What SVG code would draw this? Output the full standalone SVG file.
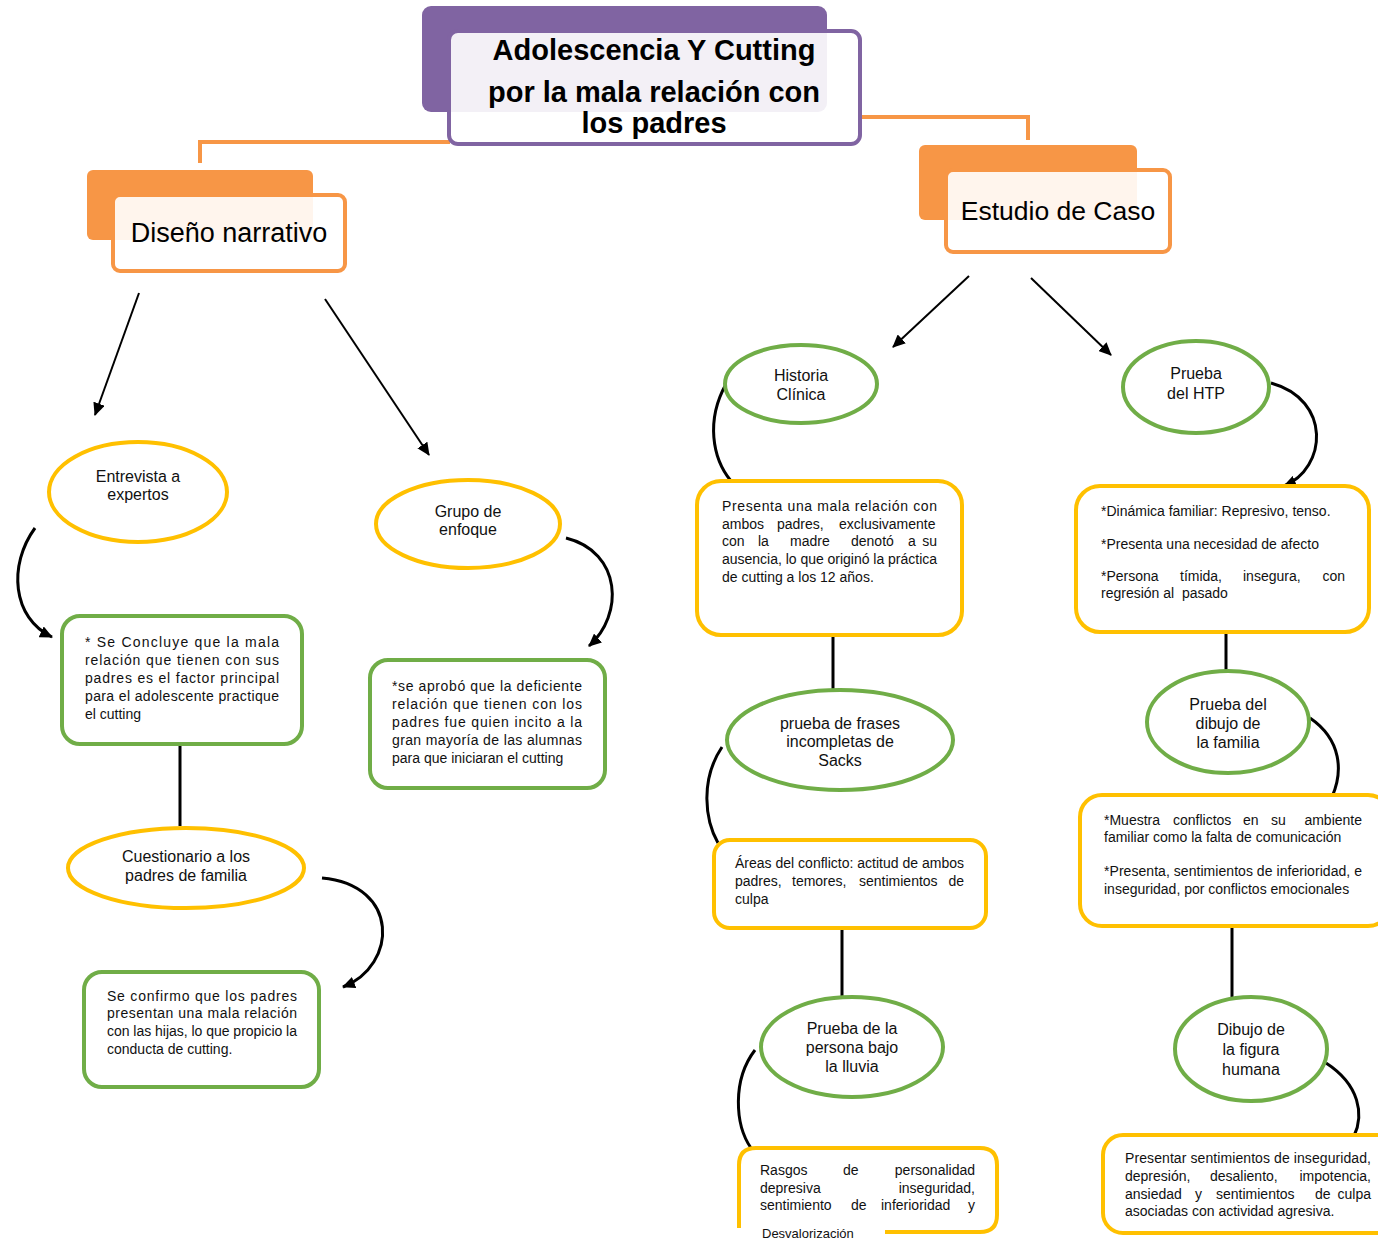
<svg xmlns="http://www.w3.org/2000/svg" width="1378" height="1239" viewBox="0 0 1378 1239">
<defs>
<marker id="ah" markerUnits="userSpaceOnUse" markerWidth="14" markerHeight="12" refX="12" refY="6" orient="auto">
<path d="M0,0 L13,6 L0,12 Z" fill="#000"/>
</marker>
<style>
.t{font-family:"Liberation Sans",Arial,sans-serif;fill:#111;}
.b{font-size:14px;}
.e{font-size:16px;text-anchor:middle;}
.ttl{font-size:29px;font-weight:bold;text-anchor:middle;fill:#000;}
.hd{font-size:26px;text-anchor:middle;fill:#000;}
.ey{fill:#fff;stroke:#FFC000;stroke-width:4;}
.eg{fill:#fff;stroke:#70AD47;stroke-width:4;}
.ry{fill:#fff;stroke:#FFC000;stroke-width:4;}
.rg{fill:#fff;stroke:#70AD47;stroke-width:4;}
.ln{stroke:#000;stroke-width:3;fill:none;}
.ar{stroke:#000;stroke-width:2;fill:none;}
.cv{stroke:#000;stroke-width:3;fill:none;}
.or{stroke:#F79646;stroke-width:4;fill:none;}
</style>
</defs>
<rect width="1378" height="1239" fill="#fff"/>

<g id="connectors">
<path class="or" d="M200,163 V142 H450"/>
<path class="or" d="M860,117 H1028 V140"/>
<line class="ar" x1="139" y1="293" x2="95" y2="415" marker-end="url(#ah)"/>
<line class="ar" x1="325" y1="299" x2="429" y2="455" marker-end="url(#ah)"/>
<line class="ar" x1="969" y1="276" x2="893" y2="347" marker-end="url(#ah)"/>
<line class="ar" x1="1031" y1="278" x2="1111" y2="355" marker-end="url(#ah)"/>
<line class="ln" x1="180" y1="744" x2="180" y2="826"/>
<line class="ln" x1="833" y1="635" x2="833" y2="690"/>
<line class="ln" x1="1226" y1="632" x2="1226" y2="671"/>
<line class="ln" x1="842" y1="928" x2="842" y2="997"/>
<line class="ln" x1="1232" y1="926" x2="1232" y2="997"/>
<path class="cv" d="M35,528 C8,565 12,618 52,637" marker-end="url(#ah)"/>
<path class="cv" d="M566,538 C622,552 624,615 589,646" marker-end="url(#ah)"/>
<path class="cv" d="M322,878 C400,885 398,965 343,987" marker-end="url(#ah)"/>
<path class="cv" d="M726,384 C706,420 712,458 731,481"/>
<path class="cv" d="M1271,383 C1332,400 1327,468 1284,486" marker-end="url(#ah)"/>
<path class="cv" d="M722,747 C700,780 705,820 718,843"/>
<path class="cv" d="M1310,718 C1342,740 1343,772 1332,797"/>
<path class="cv" d="M755,1050 C732,1080 735,1125 751,1148"/>
<path class="cv" d="M1326,1063 C1360,1085 1364,1115 1354,1136"/>
</g>

<g id="title">
<rect x="422" y="6" width="405" height="106" rx="9" fill="#8064A2"/>
<rect x="449" y="31" width="411" height="113" rx="9" fill="#fff" fill-opacity="0.9" stroke="#8064A2" stroke-width="4"/>
<text class="t ttl" x="654" y="60">Adolescencia Y Cutting</text>
<text class="t ttl" x="654" y="102">por la mala relación con</text>
<text class="t ttl" x="654" y="133">los padres</text>
</g>

<g id="diseno">
<rect x="87" y="170" width="226" height="70" rx="6" fill="#F79646"/>
<rect x="113" y="195" width="232" height="76" rx="7" fill="#fff" fill-opacity="0.9" stroke="#F79646" stroke-width="4"/>
<text class="t hd" x="229" y="242" style="font-size:27px">Diseño narrativo</text>
</g>

<g id="estudio">
<rect x="919" y="145" width="218" height="75" rx="6" fill="#F79646"/>
<rect x="946" y="170" width="224" height="82" rx="7" fill="#fff" fill-opacity="0.9" stroke="#F79646" stroke-width="4"/>
<text class="t hd" x="1058" y="220" style="font-size:26.5px">Estudio de Caso</text>
</g>

<g id="entrevista">
<ellipse class="ey" cx="138" cy="492" rx="89" ry="50"/>
<text class="t e" x="138" y="482">Entrevista a</text>
<text class="t e" x="138" y="500">expertos</text>
</g>

<g id="grupo">
<ellipse class="ey" cx="468" cy="524" rx="92" ry="44"/>
<text class="t e" x="468" y="517">Grupo de</text>
<text class="t e" x="468" y="535">enfoque</text>
</g>

<g id="conclusion1">
<rect class="rg" x="62" y="616" width="240" height="128" rx="18"/>
<text class="t b" x="85" y="647" textLength="194" lengthAdjust="spacing">* Se Concluye que la mala</text>
<text class="t b" x="85" y="665" textLength="194" lengthAdjust="spacing">relación que tienen con sus</text>
<text class="t b" x="85" y="683" textLength="194" lengthAdjust="spacing">padres es el factor principal</text>
<text class="t b" x="85" y="701" textLength="194" lengthAdjust="spacing">para el adolescente practique</text>
<text class="t b" x="85" y="719">el cutting</text>
</g>

<g id="conclusion2">
<rect class="rg" x="370" y="660" width="235" height="128" rx="18"/>
<text class="t b" x="392" y="691" textLength="190" lengthAdjust="spacing">*se aprobó que la deficiente</text>
<text class="t b" x="392" y="709" textLength="190" lengthAdjust="spacing">relación que tienen con los</text>
<text class="t b" x="392" y="727" textLength="190" lengthAdjust="spacing">padres fue quien incito a la</text>
<text class="t b" x="392" y="745" textLength="190" lengthAdjust="spacing">gran mayoría de las alumnas</text>
<text class="t b" x="392" y="763">para que iniciaran el cutting</text>
</g>

<g id="cuestionario">
<ellipse class="ey" cx="186" cy="868" rx="118" ry="40"/>
<text class="t e" x="186" y="862">Cuestionario a los</text>
<text class="t e" x="186" y="881">padres de familia</text>
</g>

<g id="conclusion3">
<rect class="rg" x="84" y="972" width="235" height="115" rx="18"/>
<text class="t b" x="107" y="1001" textLength="190" lengthAdjust="spacing">Se confirmo que los padres</text>
<text class="t b" x="107" y="1018" textLength="190" lengthAdjust="spacing">presentan una mala relación</text>
<text class="t b" x="107" y="1036" textLength="190" lengthAdjust="spacing">con las hijas, lo que propicio la</text>
<text class="t b" x="107" y="1054">conducta de cutting.</text>
</g>

<g id="historia">
<ellipse class="eg" cx="801" cy="384" rx="76" ry="39"/>
<text class="t e" x="801" y="381">Historia</text>
<text class="t e" x="801" y="400">Clínica</text>
</g>

<g id="historia-result">
<rect class="ry" x="697" y="481" width="265" height="154" rx="24"/>
<text class="t b" x="722" y="511" textLength="215" lengthAdjust="spacing">Presenta una mala relación con</text>
<text class="t b" y="529"><tspan x="722">ambos</tspan><tspan x="777">padres,</tspan><tspan x="839">exclusivamente</tspan></text>
<text class="t b" y="546"><tspan x="722">con</tspan><tspan x="758">la</tspan><tspan x="790">madre</tspan><tspan x="851">denotó</tspan><tspan x="908">a</tspan><tspan x="937" text-anchor="end">su</tspan></text>
<text class="t b" x="722" y="564" textLength="215" lengthAdjust="spacing">ausencia, lo que originó la práctica</text>
<text class="t b" x="722" y="582">de cutting a los 12 años.</text>
</g>

<g id="htp">
<ellipse class="eg" cx="1196" cy="387" rx="73" ry="46"/>
<text class="t e" x="1196" y="379">Prueba</text>
<text class="t e" x="1196" y="399">del HTP</text>
</g>

<g id="htp-result">
<rect class="ry" x="1076" y="486" width="293" height="146" rx="24"/>
<text class="t b" x="1101" y="516">*Dinámica familiar: Represivo, tenso.</text>
<text class="t b" x="1101" y="549">*Presenta una necesidad de afecto</text>
<text class="t b" y="581"><tspan x="1101">*Persona</tspan><tspan x="1180">tímida,</tspan><tspan x="1243">insegura,</tspan><tspan x="1345" text-anchor="end">con</tspan></text>
<text class="t b" x="1101" y="598" xml:space="preserve">regresión al  pasado</text>
</g>

<g id="frases">
<ellipse class="eg" cx="840" cy="740" rx="113" ry="50"/>
<text class="t e" x="840" y="729">prueba de frases</text>
<text class="t e" x="840" y="747">incompletas de</text>
<text class="t e" x="840" y="766">Sacks</text>
</g>

<g id="frases-result">
<rect class="ry" x="714" y="840" width="272" height="88" rx="16"/>
<text class="t b" x="735" y="868" textLength="229" lengthAdjust="spacing">Áreas del conflicto: actitud de ambos</text>
<text class="t b" y="886"><tspan x="735">padres,</tspan><tspan x="792">temores,</tspan><tspan x="859">sentimientos</tspan><tspan x="964" text-anchor="end">de</tspan></text>
<text class="t b" x="735" y="904">culpa</text>
</g>

<g id="familia">
<ellipse class="eg" cx="1228" cy="722" rx="81" ry="51"/>
<text class="t e" x="1228" y="710">Prueba del</text>
<text class="t e" x="1228" y="729">dibujo de</text>
<text class="t e" x="1228" y="748">la familia</text>
</g>

<g id="familia-result">
<rect class="ry" x="1080" y="795" width="310" height="131" rx="22"/>
<text class="t b" y="825"><tspan x="1104">*Muestra</tspan><tspan x="1173">conflictos</tspan><tspan x="1243">en</tspan><tspan x="1271">su</tspan><tspan x="1362" text-anchor="end">ambiente</tspan></text>
<text class="t b" x="1104" y="842">familiar como la falta de comunicación</text>
<text class="t b" x="1104" y="876" textLength="258" lengthAdjust="spacing">*Presenta, sentimientos de inferioridad, e</text>
<text class="t b" x="1104" y="894">inseguridad, por conflictos emocionales</text>
</g>

<g id="lluvia">
<ellipse class="eg" cx="852" cy="1047" rx="91" ry="50"/>
<text class="t e" x="852" y="1034">Prueba de la</text>
<text class="t e" x="852" y="1053">persona bajo</text>
<text class="t e" x="852" y="1072">la lluvia</text>
</g>

<g id="lluvia-result">
<path class="ry" fill="none" d="M885,1232 H980 Q997,1232 997,1215 V1165 Q997,1148 980,1148 H756 Q739,1148 739,1165 V1228"/>
<text class="t b" y="1175"><tspan x="760">Rasgos</tspan><tspan x="843">de</tspan><tspan x="975" text-anchor="end">personalidad</tspan></text>
<text class="t b" y="1193"><tspan x="760">depresiva</tspan><tspan x="975" text-anchor="end">inseguridad,</tspan></text>
<text class="t b" y="1210"><tspan x="760">sentimiento</tspan><tspan x="851">de</tspan><tspan x="881">inferioridad</tspan><tspan x="975" text-anchor="end">y</tspan></text>
<text class="t b" x="762" y="1238" style="font-size:13px">Desvalorización</text>
</g>

<g id="figura">
<ellipse class="eg" cx="1251" cy="1049" rx="76" ry="52"/>
<text class="t e" x="1251" y="1035">Dibujo de</text>
<text class="t e" x="1251" y="1055">la figura</text>
<text class="t e" x="1251" y="1075">humana</text>
</g>

<g id="figura-result">
<rect class="ry" x="1103" y="1135" width="295" height="98" rx="20"/>
<text class="t b" x="1125" y="1163" textLength="246" lengthAdjust="spacing">Presentar sentimientos de inseguridad,</text>
<text class="t b" y="1181"><tspan x="1125">depresión,</tspan><tspan x="1210">desaliento,</tspan><tspan x="1371" text-anchor="end">impotencia,</tspan></text>
<text class="t b" y="1199"><tspan x="1125">ansiedad</tspan><tspan x="1195">y</tspan><tspan x="1216">sentimientos</tspan><tspan x="1315">de</tspan><tspan x="1371" text-anchor="end">culpa</tspan></text>
<text class="t b" x="1125" y="1216">asociadas con actividad agresiva.</text>
</g>
</svg>
